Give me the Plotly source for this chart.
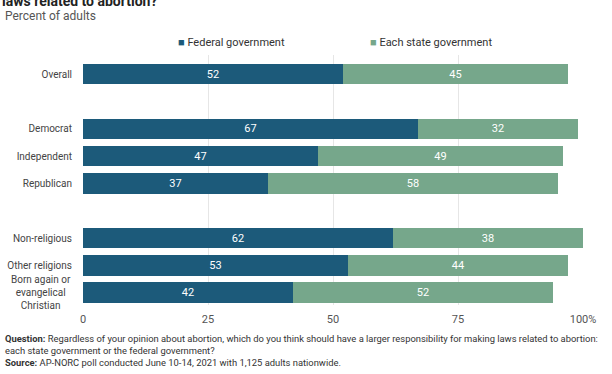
import plotly.graph_objects as go

categories = ["Overall", "Democrat", "Independent", "Republican",
              "Non-religious", "Other religions", "Born again or<br>evangelical<br>Christian"]
positions = [0, 2, 3, 4, 6, 7, 8]
federal = [52, 67, 47, 37, 62, 53, 42]
state = [45, 32, 49, 58, 38, 44, 52]
x_tickvals = [0, 25, 50, 75, 100]
x_ticktext = ["0", "25", "50", "75", "100%"]

C_FED = "#1c5a7a"
C_STATE = "#76a78b"
FONT = "Roboto"

fig = go.Figure()
fig.add_trace(go.Bar(
    y=positions, x=federal, orientation="h", name="Federal government",
    marker=dict(color=C_FED, line=dict(width=0)), width=0.75,
    text=[str(v) for v in federal], textposition="inside", insidetextanchor="middle",
    textfont=dict(color="white", size=11, family=FONT), cliponaxis=False,
))
fig.add_trace(go.Bar(
    y=positions, x=state, orientation="h", name="Each state government",
    marker=dict(color=C_STATE, line=dict(width=0)), width=0.75,
    text=[str(v) for v in state], textposition="inside", insidetextanchor="middle",
    textfont=dict(color="white", size=11, family=FONT), cliponaxis=False,
))

ticktext = [c if "<br>" not in c else "" for c in categories]

fig.update_layout(
    barmode="stack",
    width=612, height=374,
    margin=dict(l=83, r=29, t=55, b=69),
    paper_bgcolor="white", plot_bgcolor="white",
    showlegend=False,
    font=dict(family=FONT, color="#333"),
    xaxis=dict(range=[0, 100], tickvals=x_tickvals, ticktext=x_ticktext,
               showgrid=True, gridcolor="#e6e6e6", gridwidth=1, zeroline=False,
               showline=False, ticks="", tickfont=dict(size=11, color="#555"),
               ticklabelstandoff=6, automargin=False),
    yaxis=dict(range=[8.45, -0.7], tickvals=positions, ticktext=ticktext,
               showgrid=False, zeroline=False, showline=False, ticks="",
               tickfont=dict(size=10, color="#444", family=FONT), ticklabelstandoff=10,
               automargin=False),
    bargap=0.25,
)

annotations = [
    dict(text="<b>laws related to abortion?</b>", xref="paper", yref="paper",
         x=-83/500, y=1 + 44/250, xanchor="left", yanchor="bottom", showarrow=False,
         font=dict(size=14, color="#222", family=FONT)),
    dict(text="Percent of adults", xref="paper", yref="paper",
         x=-80/500, y=1 + (55-16)/250, xanchor="left", yanchor="middle", showarrow=False,
         font=dict(size=12, color="#555", family=FONT)),
    dict(text=f"<span style='color:{C_FED}'>■</span> Federal government", xref="paper", yref="paper",
         x=(176-83)/500, y=1 + (55-43)/250, xanchor="left", yanchor="middle", showarrow=False,
         font=dict(size=11, color="#333", family=FONT)),
    dict(text=f"<span style='color:{C_STATE}'>■</span> Each state government", xref="paper", yref="paper",
         x=(368-83)/500, y=1 + (55-43)/250, xanchor="left", yanchor="middle", showarrow=False,
         font=dict(size=11, color="#333", family=FONT)),
    dict(text=categories[6], xref="paper", yref="y",
         x=-10/500, y=positions[6], xanchor="right", yanchor="middle", align="center",
         showarrow=False, font=dict(size=10, color="#444", family=FONT)),
    dict(text="<b>Question:</b> Regardless of your opinion about abortion, which do you think should have a larger responsibility for making laws related to abortion:<br>"
              "each state government or the federal government?<br>"
              "<b>Source:</b> AP-NORC poll conducted June 10-14, 2021 with 1,125 adults nationwide.",
         xref="paper", yref="paper", x=-80/500, y=-(331-305)/250, xanchor="left", yanchor="top",
         align="left", showarrow=False, font=dict(size=9.4, color="#333", family=FONT)),
]
fig.update_layout(annotations=annotations)

fig.write_html("out.html", config={"displayModeBar": False},
               post_script="document.body.style.margin='0';document.body.style.overflow='hidden';")
